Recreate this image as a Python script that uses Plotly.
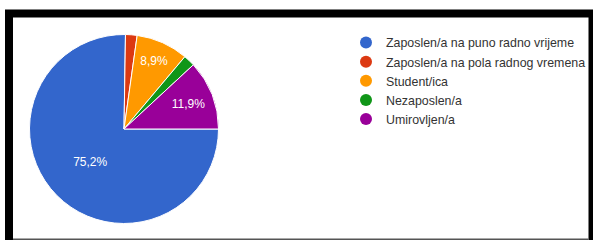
import plotly.graph_objects as go

categories = [
    "Zaposlen/a na puno radno vrijeme",
    "Zaposlen/a na pola radnog vremena",
    "Student/ica",
    "Nezaposlen/a",
    "Umirovljen/a",
]
counts = [76, 2, 9, 2, 12]
colors = ["#3366CC", "#DC3912", "#FF9900", "#109618", "#990099"]

W, H = 593, 240
total = sum(counts)
templates = ["%{percent:.1%}" if c / total >= 0.05 else "" for c in counts]

fig = go.Figure()
fig.add_trace(go.Pie(
    labels=categories,
    values=counts,
    sort=False,
    direction="clockwise",
    rotation=90,
    marker=dict(colors=colors, line=dict(color="white", width=1)),
    textinfo="none",
    texttemplate=templates,
    textposition="inside",
    insidetextorientation="horizontal",
    textfont=dict(family="Liberation Sans, Arial", size=12, color="white"),
    showlegend=False,
    hoverinfo="label+percent",
    domain=dict(x=[29.5 / W, 218.5 / W], y=[16.5 / H, 205.5 / H]),
))

for name, col in zip(categories, colors):
    fig.add_trace(go.Scatter(
        x=[None], y=[None], mode="markers", name=name,
        marker=dict(symbol="circle", size=12, color=col),
        showlegend=True, hoverinfo="skip",
    ))

shapes = [
    dict(type="rect", xref="paper", yref="paper", x0=5 / W, x1=13 / W, y0=0, y1=(H - 10) / H,
         fillcolor="black", line=dict(width=0), layer="above"),
    dict(type="rect", xref="paper", yref="paper", x0=5 / W, x1=1, y0=(H - 17.5) / H, y1=(H - 9.5) / H,
         fillcolor="black", line=dict(width=0), layer="above"),
    dict(type="rect", xref="paper", yref="paper", x0=588.5 / W, x1=1, y0=0, y1=(H - 10) / H,
         fillcolor="black", line=dict(width=0), layer="above"),
    dict(type="rect", xref="paper", yref="paper", x0=13 / W, x1=588.5 / W, y0=0, y1=1.5 / H,
         fillcolor="#555555", line=dict(width=0), layer="above"),
]

fig.update_layout(
    width=W, height=H,
    margin=dict(l=0, r=0, t=0, b=0),
    paper_bgcolor="white", plot_bgcolor="white",
    separators=",.",
    xaxis=dict(visible=False), yaxis=dict(visible=False),
    legend=dict(
        x=346 / W, xanchor="left", y=(H - 28) / H, yanchor="top",
        font=dict(family="Liberation Sans, Arial", size=12.4, color="#333333"),
        bgcolor="rgba(0,0,0,0)", itemsizing="constant",
        tracegroupgap=0,
    ),
    shapes=shapes,
)

fig.write_html(
    "out.html",
    config={"displayModeBar": False},
    post_script="document.body.style.margin='0';document.body.style.overflow='hidden';",
)
